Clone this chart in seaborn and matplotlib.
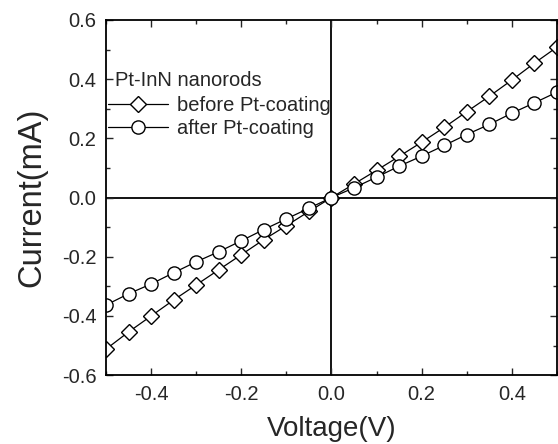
import numpy as np
import pandas as pd
import matplotlib
matplotlib.use("Agg")
import matplotlib.pyplot as plt
import seaborn as sns
from matplotlib.ticker import MultipleLocator

voltage = [-0.5, -0.45, -0.4, -0.35, -0.3, -0.25, -0.2, -0.15, -0.1, -0.05, 0.0,
           0.05, 0.1, 0.15, 0.2, 0.25, 0.3, 0.35, 0.4, 0.45, 0.5]
before = [-0.512, -0.454, -0.400, -0.346, -0.295, -0.244, -0.193, -0.142, -0.095, -0.047, 0.0,
          0.046, 0.092, 0.139, 0.187, 0.237, 0.290, 0.342, 0.397, 0.454, 0.508]
after = [-0.363, -0.325, -0.292, -0.254, -0.217, -0.183, -0.146, -0.108, -0.072, -0.036, 0.0,
         0.033, 0.069, 0.106, 0.140, 0.176, 0.213, 0.247, 0.285, 0.320, 0.356]
labels = ["before Pt-coating", "after Pt-coating"]
legend_title = "Pt-InN nanorods"
xticks = [-0.4, -0.2, 0.0, 0.2, 0.4]
yticks = [-0.6, -0.4, -0.2, 0.0, 0.2, 0.4, 0.6]

sns.set_style("ticks")
plt.rcParams['font.family'] = ['Liberation Sans', 'DejaVu Sans']

fig = plt.figure(figsize=(5.58, 4.44), dpi=100)
ax = fig.add_axes([0.19, 0.155, 0.808, 0.8])

df = pd.DataFrame({"V": voltage, "before": before, "after": after})
sns.lineplot(data=df, x="V", y="before", ax=ax, color="black", lw=0.9,
             marker="D", markersize=8, markerfacecolor="white",
             markeredgecolor="black", markeredgewidth=1.0, label=labels[0])
sns.lineplot(data=df, x="V", y="after", ax=ax, color="black", lw=0.9,
             marker="o", markersize=9.5, markerfacecolor="white",
             markeredgecolor="black", markeredgewidth=1.0, label=labels[1])

ax.axhline(0, color="black", lw=1.3, zorder=0.5)
ax.axvline(0, color="black", lw=1.3, zorder=0.5)

ax.set_xlim(-0.5, 0.5)
ax.set_ylim(-0.6, 0.6)
ax.xaxis.set_minor_locator(MultipleLocator(0.1))
ax.yaxis.set_minor_locator(MultipleLocator(0.1))
ax.set_xticks(xticks)
ax.set_xticklabels([f"{v:.1f}" for v in xticks])
ax.set_yticks(yticks)
ax.set_yticklabels([f"{v:.1f}" for v in yticks])
ax.tick_params(which="both", direction="in", top=True, right=True, labelsize=14.5, width=1.0)
ax.tick_params(which="major", length=5, pad=7)
ax.tick_params(which="minor", length=3)
for s in ax.spines.values():
    s.set_linewidth(1.3)
    s.set_color("black")

ax.set_xlabel("Voltage(V)", fontsize=20, labelpad=9)
ax.set_ylabel("Current(mA)", fontsize=23.5, labelpad=10)

ax.text(0.02, 0.831, legend_title, transform=ax.transAxes, fontsize=14.5,
        ha="left", va="center")
leg = ax.legend(frameon=False, loc="upper left",
                bbox_to_anchor=(0.004, 0.786), fontsize=14.5,
                handlelength=3.0, handletextpad=0.45, borderpad=0.0,
                borderaxespad=0.0, labelspacing=0.22)

fig.savefig("out.png", dpi=100)
